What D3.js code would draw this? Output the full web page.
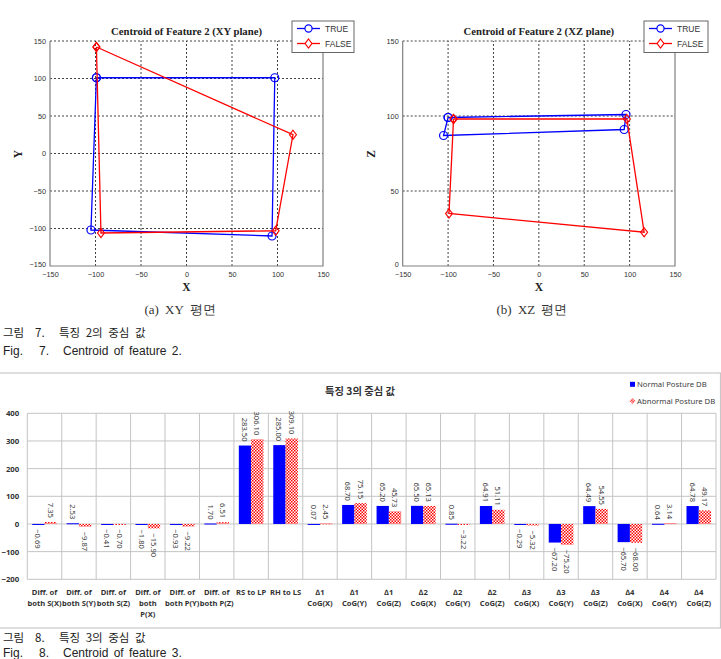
<!DOCTYPE html>
<html>
<head>
<meta charset="utf-8">
<script src="https://cdn.jsdelivr.net/npm/d3@7/dist/d3.min.js"></script>
<style>
  body { margin: 0; background: #fff; }
  svg { display: block; }
</style>
</head>
<body>
<svg id="fig" width="721" height="659"></svg>
<script>
// ---- Fig. 7 data (centroid of feature 2), closed polygons as plotted
const xyTrue  = [[-99, 101], [97, 101], [94, -110], [-105, -102], [-99, 101]];
const xyFalse = [[-99, 142], [117, 25], [98, -103], [-94, -106], [-99, 142]];
const xzTrue  = [[-100, 99], [96, 101], [94, 91], [-105, 87], [-100, 99]];
const xzFalse = [[-94, 98], [97, 98], [116, 22.5], [-99, 35], [-94, 98]];
const xTicks   = [-150, -100, -50, 0, 50, 100, 150];
const xyYTicks = [-150, -100, -50, 0, 50, 100, 150];
const xzYTicks = [0, 50, 100, 150];

// ---- Fig. 8 data (centroid of feature 3)
const categories = [
  ['Diff. of', 'both S(X)'], ['Diff. of', 'both S(Y)'], ['Diff. of', 'both S(Z)'],
  ['Diff. of', 'both', 'P(X)'], ['Diff. of', 'both P(Y)'], ['Diff. of', 'both P(Z)'],
  ['RS to LP'], ['RH to LS'],
  ['\u22061', 'CoG(X)'], ['\u22061', 'CoG(Y)'], ['\u22061', 'CoG(Z)'],
  ['\u22062', 'CoG(X)'], ['\u22062', 'CoG(Y)'], ['\u22062', 'CoG(Z)'],
  ['\u22063', 'CoG(X)'], ['\u22063', 'CoG(Y)'], ['\u22063', 'CoG(Z)'],
  ['\u22064', 'CoG(X)'], ['\u22064', 'CoG(Y)'], ['\u22064', 'CoG(Z)']
];
const normalDB   = [-0.69, 2.53, -0.41, -1.80, -0.93, 1.70, 283.50, 285.00, 0.07, 68.70,
                    65.20, 65.50, 0.85, 64.91, -0.29, -67.20, 64.49, -65.70, 0.64, 64.78];
const abnormalDB = [7.35, -9.87, -0.70, -15.90, -9.22, 6.51, 306.10, 309.10, 2.45, 75.15,
                    45.73, 65.13, -3.22, 51.11, -5.32, -75.20, 54.55, -68.00, 3.14, 49.17];
const barTicks = [-200, -100, 0, 100, 200, 300, 400];

const BLUE = '#0000ff', RED = '#ff0000';
const svg = d3.select('#fig');

const defs = svg.append('defs');
const pat = defs.append('pattern').attr('id', 'check')
  .attr('patternUnits', 'userSpaceOnUse').attr('width', 3).attr('height', 3);
pat.append('rect').attr('width', 3).attr('height', 3).attr('fill', '#fff');
pat.append('rect').attr('width', 1.5).attr('height', 1.5).attr('fill', RED);
pat.append('rect').attr('x', 1.5).attr('y', 1.5).attr('width', 1.5).attr('height', 1.5).attr('fill', RED);

const diamond = 'M0,-4.5L3.4,0L0,4.5L-3.4,0Z';

function drawCentroid(o) {
  const x = d3.scaleLinear().domain([-150, 150]).range([o.left, o.right]);
  const y = d3.scaleLinear().domain(o.yDomain).range([266, 41]);
  const g = svg.append('g');

  // dotted grid
  g.selectAll('.gx').data(xTicks.slice(1, -1)).join('line')
    .attr('x1', d => x(d)).attr('x2', d => x(d)).attr('y1', y.range()[0]).attr('y2', y.range()[1])
    .attr('stroke', '#111').attr('stroke-width', 0.8).attr('stroke-dasharray', '2,2');
  g.selectAll('.gy').data(o.yTicks.slice(1)).join('line')
    .attr('y1', d => y(d)).attr('y2', d => y(d)).attr('x1', o.left).attr('x2', o.right)
    .attr('stroke', '#111').attr('stroke-width', 0.8).attr('stroke-dasharray', '2,2');

  // frame
  g.append('path')
    .attr('d', `M${o.left},${y.range()[1]}V${y.range()[0]}H${o.right}V${y.range()[1]}`)
    .attr('fill', 'none').attr('stroke', '#808080').attr('stroke-width', 1.2);

  const ax = g.append('g').attr('transform', `translate(0,${y.range()[0]})`)
    .call(d3.axisBottom(x).tickValues(xTicks).tickSize(0).tickPadding(6));
  ax.select('.domain').remove();
  ax.selectAll('text').attr('font-family', 'Liberation Sans, Arial, sans-serif')
    .attr('font-size', 7.3).attr('fill', '#333');

  const ay = g.append('g').attr('transform', `translate(${o.left},0)`)
    .call(d3.axisLeft(y).tickValues(o.yTicks).tickSize(0).tickPadding(4));
  ay.select('.domain').remove();
  ay.selectAll('text').attr('font-family', 'Liberation Sans, Arial, sans-serif')
    .attr('font-size', 7.3).attr('fill', '#333')
    .attr('dy', (d, i) => i === 0 ? '0.05em' : '0.32em');

  const line = d3.line().x(d => x(d[0])).y(d => y(d[1]));
  const series = [
    { name: 'TRUE', data: o.trueData, color: BLUE, mark: 'circle' },
    { name: 'FALSE', data: o.falseData, color: RED, mark: 'diamond' }
  ];
  series.forEach(s => {
    g.append('path').attr('d', line(s.data)).attr('fill', 'none')
      .attr('stroke', s.color).attr('stroke-width', 1.3);
    g.selectAll(null).data(s.data).join('path')
      .attr('transform', d => `translate(${x(d[0])},${y(d[1])})`)
      .attr('d', s.mark === 'circle' ? d3.symbol(d3.symbolCircle, 50)() : diamond)
      .attr('fill', 'none').attr('stroke', s.color).attr('stroke-width', 1.2);
  });

  // title & axis labels
  g.append('text').attr('x', (o.left + o.right) / 2).attr('y', 34.5)
    .attr('text-anchor', 'middle').attr('font-family', 'Liberation Serif, Times New Roman, serif')
    .attr('font-weight', 'bold').attr('font-size', 10.7).attr('fill', '#222').text(o.title);
  g.append('text').attr('x', (o.left + o.right) / 2).attr('y', 291)
    .attr('text-anchor', 'middle').attr('font-family', 'Liberation Serif, Times New Roman, serif')
    .attr('font-weight', 'bold').attr('font-size', 11.5).attr('fill', '#222').text('X');
  g.append('text').attr('transform', `translate(${o.left - 28},154) rotate(-90)`)
    .attr('text-anchor', 'middle').attr('font-family', 'Liberation Serif, Times New Roman, serif')
    .attr('font-weight', 'bold').attr('font-size', 11.5).attr('fill', '#222').text(o.yLabel);

  // legend
  const lg = g.append('g').attr('transform', `translate(${o.right - 31},21)`);
  lg.append('rect').attr('width', o.legendW).attr('height', 31.5)
    .attr('fill', '#fff').attr('stroke', '#666').attr('stroke-width', 1);
  series.forEach((s, i) => {
    const ly = 7.5 + i * 15;
    lg.append('line').attr('x1', 5).attr('x2', 28).attr('y1', ly).attr('y2', ly)
      .attr('stroke', s.color).attr('stroke-width', 1.3);
    lg.append('path').attr('transform', `translate(16.5,${ly})`)
      .attr('d', s.mark === 'circle' ? d3.symbol(d3.symbolCircle, 40)() : diamond)
      .attr('fill', '#fff').attr('stroke', s.color).attr('stroke-width', 1.2);
    lg.append('text').attr('x', 33).attr('y', ly + 3)
      .attr('font-family', 'Liberation Sans, Arial, sans-serif').attr('font-size', 8.5)
      .attr('fill', '#333').text(s.name);
  });
}

drawCentroid({ left: 50, right: 323, yDomain: [-150, 150], yTicks: xyYTicks,
  title: 'Centroid of Feature 2 (XY plane)', yLabel: 'Y', trueData: xyTrue, falseData: xyFalse, legendW: 62 });
drawCentroid({ left: 402.7, right: 675, yDomain: [0, 150], yTicks: xzYTicks,
  title: 'Centroid of Feature 2 (XZ plane)', yLabel: 'Z', trueData: xzTrue, falseData: xzFalse, legendW: 64 });

// ---- captions of Fig. 7
const serif = 'Liberation Serif, Times New Roman, serif';
const kr = 'Noto Sans CJK KR, sans-serif';
svg.append('text').attr('x', 180).attr('y', 314).attr('text-anchor', 'middle')
  .attr('font-family', serif).attr('font-size', 13).attr('word-spacing', 3).attr('fill', '#333')
  .text('(a) XY 평면');
svg.append('text').attr('x', 532).attr('y', 314).attr('text-anchor', 'middle')
  .attr('font-family', serif).attr('font-size', 13).attr('word-spacing', 3).attr('fill', '#333')
  .text('(b) XZ 평면');

function caption(y, enY, num, ko, en) {
  const t1 = svg.append('text').attr('y', y).attr('font-family', kr).attr('font-size', 11.5).attr('fill', '#222');
  t1.append('tspan').attr('x', 3).text('그림');
  t1.append('tspan').attr('x', 35).text(num + '.');
  t1.append('tspan').attr('x', 59).attr('word-spacing', 3).text(ko);
  const t2 = svg.append('text').attr('y', enY).attr('font-family', 'Liberation Sans, Arial, sans-serif')
    .attr('font-size', 12).attr('fill', '#222');
  t2.append('tspan').attr('x', 3).text('Fig.');
  t2.append('tspan').attr('x', 39).text(num + '.');
  t2.append('tspan').attr('x', 63).attr('word-spacing', 2).text(en);
}
caption(337, 355, 7, '특징 2의 중심 값', 'Centroid of feature 2.');

// ---- Fig. 8 bar chart
svg.append('rect').attr('x', -1).attr('y', 373).attr('width', 721.5).attr('height', 255)
  .attr('fill', '#fff').attr('stroke', '#c8c8c8').attr('stroke-width', 1.2);

const bx0 = d3.scaleBand().domain(d3.range(categories.length)).range([27.3, 716]).padding(0);
const bx1 = d3.scaleBand().domain(['n', 'a']).range([0, bx0.bandwidth()]).paddingOuter(0.4).paddingInner(0);
const by = d3.scaleLinear().domain([-200, 400]).range([579.3, 413.3]);
const bg = svg.append('g');

bg.selectAll('.hg').data(barTicks).join('line')
  .attr('x1', 27.3).attr('x2', 716).attr('y1', d => by(d)).attr('y2', d => by(d))
  .attr('stroke', '#c4c4c4').attr('stroke-width', 1);
bg.selectAll('.vg').data(d3.range(categories.length + 1)).join('line')
  .attr('x1', d => 27.3 + d * bx0.step()).attr('x2', d => 27.3 + d * bx0.step())
  .attr('y1', by(400)).attr('y2', by(-200))
  .attr('stroke', '#c4c4c4').attr('stroke-width', 1);

const yAx = bg.append('g').attr('transform', 'translate(27.3,0)')
  .call(d3.axisLeft(by).tickValues(barTicks).tickSize(0).tickPadding(8));
yAx.select('.domain').remove();
yAx.selectAll('text').attr('font-family', 'Noto Sans, sans-serif').attr('font-weight', 'bold')
  .attr('font-size', 7.8).attr('fill', '#333');

const rows = categories.map((c, i) => [
  { key: 'n', i, v: normalDB[i] },
  { key: 'a', i, v: abnormalDB[i] }
]).flat();

bg.selectAll('.bar').data(rows).join('rect')
  .attr('x', d => bx0(d.i) + bx1(d.key))
  .attr('width', bx1.bandwidth())
  .attr('y', d => Math.min(by(d.v), by(0)))
  .attr('height', d => Math.max(1, Math.abs(by(d.v) - by(0))))
  .attr('fill', d => d.key === 'n' ? BLUE : 'url(#check)');

const fmt = d3.format('.2f');
bg.selectAll('.lbl').data(rows).join('text')
  .attr('transform', d => {
    const cx = bx0(d.i) + bx1(d.key) + bx1.bandwidth() / 2;
    const cy = d.v >= 0 ? by(d.v) - 4 : by(d.v) + 5;
    return `translate(${cx},${cy}) rotate(90)`;
  })
  .attr('text-anchor', d => d.v >= 0 ? 'end' : 'start')
  .attr('dominant-baseline', 'central')
  .attr('font-family', 'Noto Sans, sans-serif').attr('font-size', 7.6).attr('fill', '#404040')
  .text(d => fmt(d.v));

const catG = bg.selectAll('.cat').data(categories).join('text')
  .attr('text-anchor', 'middle')
  .attr('font-family', 'Noto Sans, sans-serif').attr('font-weight', 'bold')
  .attr('font-size', 7.6).attr('fill', '#333');
catG.selectAll('tspan').data((d, i) => d.map(t => ({ t, i }))).join('tspan')
  .attr('x', d => bx0(d.i) + bx0.bandwidth() / 2)
  .attr('y', (d, j) => 594.5 + j * 11.3)
  .text(d => d.t);

// title and legend
svg.append('text').attr('x', 360).attr('y', 395).attr('text-anchor', 'middle')
  .attr('font-family', kr).attr('font-weight', 'bold').attr('font-size', 10.3).attr('fill', '#333')
  .text('특징 3의 중심 값');
const bl = svg.append('g').attr('transform', 'translate(630,0)');
bl.append('rect').attr('x', 0).attr('y', 381.8).attr('width', 5).attr('height', 5).attr('fill', BLUE);
bl.append('path').attr('transform', 'translate(2.5,401)').attr('d', 'M0,-3L3,0L0,3L-3,0Z').attr('fill', 'url(#check)');
bl.append('text').attr('x', 7).attr('y', 387).attr('font-family', 'Noto Sans, sans-serif')
  .attr('font-size', 7.7).attr('fill', '#404040').text('Normal Posture DB');
bl.append('text').attr('x', 7).attr('y', 403.7).attr('font-family', 'Noto Sans, sans-serif')
  .attr('font-size', 7.7).attr('fill', '#404040').text('Abnormal Posture DB');

caption(642, 656.5, 8, '특징 3의 중심 값', 'Centroid of feature 3.');
</script>
</body>
</html>
